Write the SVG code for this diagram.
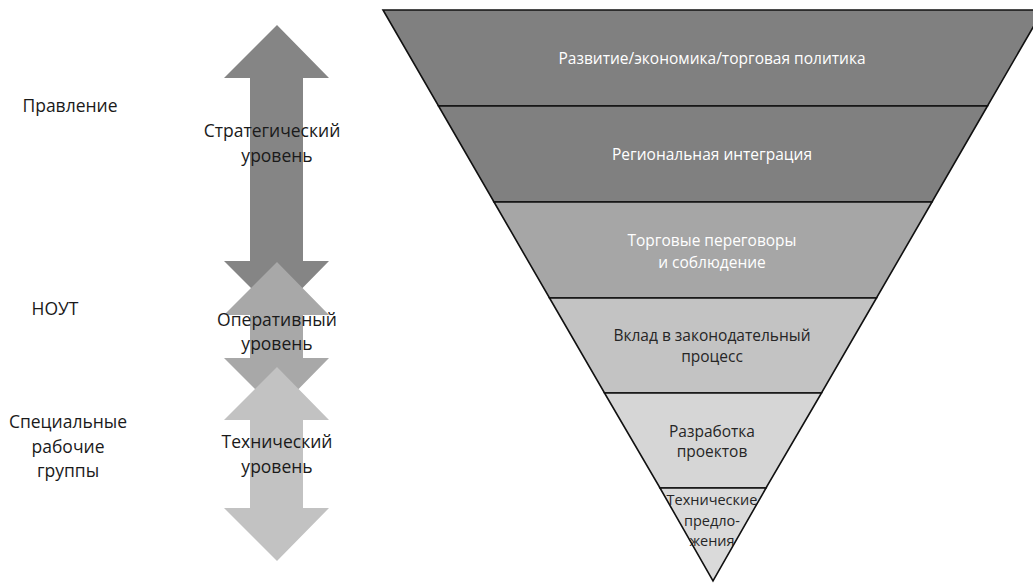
<svg xmlns="http://www.w3.org/2000/svg" width="1033" height="585" viewBox="0 0 1033 585">
<style>
.lbl{font-family:"Open Sans","Liberation Sans",sans-serif;font-size:17.5px;fill:#1a1a1a;text-anchor:middle}
.fw{font-family:"Open Sans","Liberation Sans",sans-serif;font-size:15.5px;fill:#ffffff;text-anchor:middle}
.fd{font-family:"Open Sans","Liberation Sans",sans-serif;font-size:15.5px;fill:#262626;text-anchor:middle}
.fs{font-family:"Open Sans","Liberation Sans",sans-serif;font-size:14.5px;fill:#262626;text-anchor:middle}
.band{stroke:#111;stroke-width:1.6;stroke-linejoin:miter}
</style>
<rect width="1033" height="585" fill="#ffffff"/>
<g id="left-labels">
<text class="lbl" x="70" y="112">Правление</text>
<text class="lbl" x="55" y="315">НОУТ</text>
<text class="lbl" x="68" y="428">Специальные</text>
<text class="lbl" x="68" y="453">рабочие</text>
<text class="lbl" x="68" y="477">группы</text>
</g>
<g id="arrows">
<g id="arrow-strategic">
<polygon fill="#858585" points="277,25 329,78 303,78 303,261 329,261 277,314 224,261 250,261 250,78 224,78"/>
<text class="lbl" x="272" y="137">Стратегический</text>
<text class="lbl" x="277" y="162">уровень</text>
</g>
<g id="arrow-operational">
<polygon fill="#a8a8a8" points="277,262 329,315 303,315 303,358 329,358 277,411 224,358 250,358 250,315 224,315"/>
<text class="lbl" x="277" y="326">Оперативный</text>
<text class="lbl" x="277" y="350">уровень</text>
</g>
<g id="arrow-technical">
<polygon fill="#c2c2c2" points="277,367 329,420 303,420 303,508 329,508 277,561 224,508 250,508 250,420 224,420"/>
<text class="lbl" x="277" y="448">Технический</text>
<text class="lbl" x="277" y="473">уровень</text>
</g>
</g>
<g id="funnel">
<g id="band1">
<polygon class="band" fill="#808080" points="383,10 1043,10 987.5,106 438.5,106"/>
<text class="fw" x="712" y="64">Развитие/экономика/торговая политика</text>
</g>
<g id="band2">
<polygon class="band" fill="#808080" points="438.5,106 987.5,106 932,202 494,202"/>
<text class="fw" x="712" y="160">Региональная интеграция</text>
</g>
<g id="band3">
<polygon class="band" fill="#a6a6a6" points="494,202 932,202 876.5,298 549.5,298"/>
<text class="fw" x="712" y="246">Торговые переговоры</text>
<text class="fw" x="712" y="268">и соблюдение</text>
</g>
<g id="band4">
<polygon class="band" fill="#c3c3c3" points="549.5,298 876.5,298 821.5,393 604.5,393"/>
<text class="fd" x="712" y="341">Вклад в законодательный</text>
<text class="fd" x="712" y="362">процесс</text>
</g>
<g id="band5">
<polygon class="band" fill="#d6d6d6" points="604.5,393 821.5,393 766,488 660,488"/>
<text class="fd" x="712" y="437">Разработка</text>
<text class="fd" x="712" y="457">проектов</text>
</g>
<g id="band6">
<polygon class="band" fill="#dadada" points="660,488 766,488 713,581"/>
<text class="fs" x="712" y="505">Технические</text>
<text class="fs" x="712" y="526">предло-</text>
<text class="fs" x="712" y="546">жения</text>
</g>
</g>
</svg>
